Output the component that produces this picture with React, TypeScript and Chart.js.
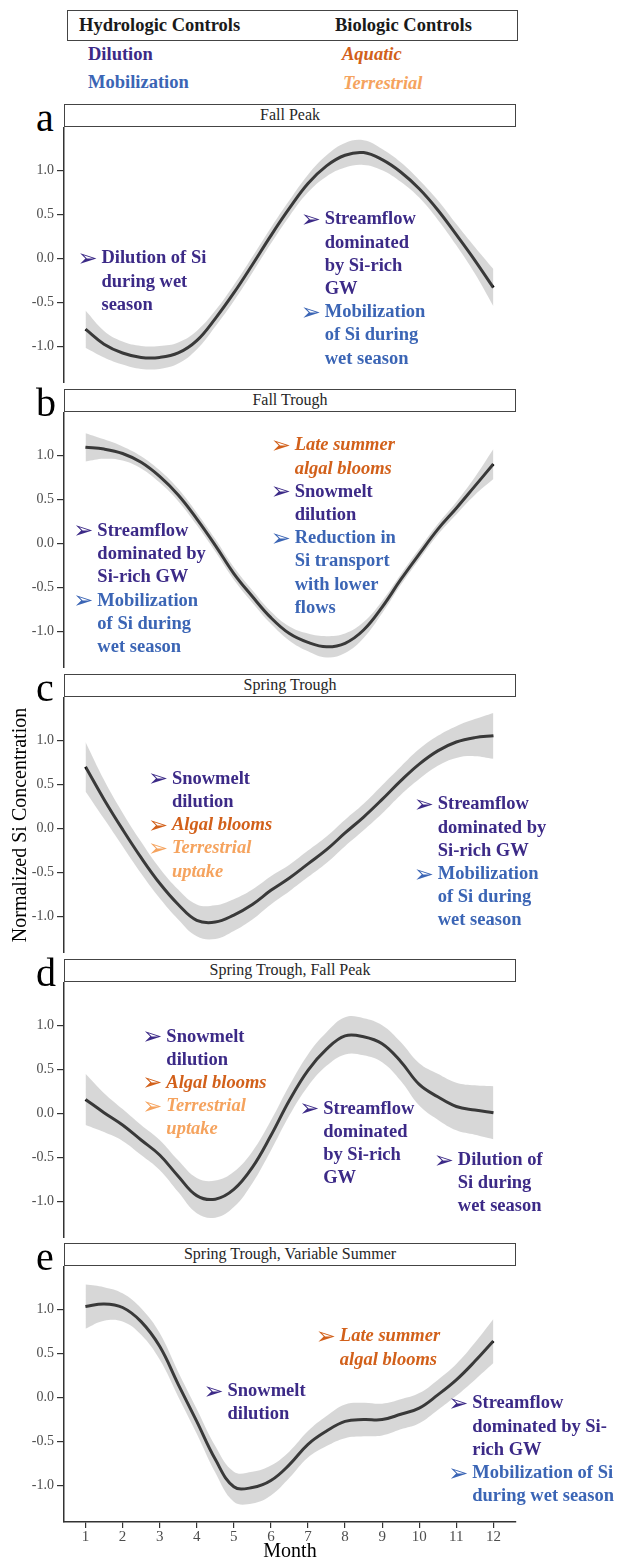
import React, { useEffect, useRef } from 'react';
import { Chart, registerables } from 'chart.js';

Chart.register(...registerables);

// ---------- data ----------
const MONTHS = [1, 1.5, 2, 2.5, 3, 3.5, 4, 4.5, 5, 5.5, 6, 6.5, 7, 7.5, 8, 8.5, 9, 9.5, 10, 10.5, 11, 11.5, 12];
const MONTH_TICKS = [1, 2, 3, 4, 5, 6, 7, 8, 9, 10, 11, 12];
const Y_TICKS = [-1, -0.5, 0, 0.5, 1];
const Y_TICK_LABELS = ['-1.0', '-0.5', '0.0', '0.5', '1.0'];
const PANEL_LETTERS = ['a', 'b', 'c', 'd', 'e'];
const PANEL_TITLES = ['Fall Peak', 'Fall Trough', 'Spring Trough', 'Spring Trough, Fall Peak', 'Spring Trough, Variable Summer'];

const fitA = [-0.80, -0.97, -1.07, -1.12, -1.12, -1.07, -0.93, -0.68, -0.39, -0.07, 0.26, 0.57, 0.85, 1.05, 1.17, 1.20, 1.12, 0.98, 0.79, 0.55, 0.27, -0.02, -0.33];
const upperA = [-0.59, -0.82, -0.94, -0.99, -0.99, -0.95, -0.82, -0.59, -0.30, 0.02, 0.35, 0.66, 0.95, 1.17, 1.31, 1.34, 1.24, 1.09, 0.89, 0.66, 0.39, 0.13, -0.12];
const lowerA = [-1.01, -1.12, -1.20, -1.25, -1.25, -1.19, -1.03, -0.77, -0.48, -0.16, 0.17, 0.48, 0.75, 0.93, 1.03, 1.06, 1.00, 0.87, 0.69, 0.44, 0.15, -0.17, -0.54];

const fitB = [1.09, 1.07, 1.02, 0.92, 0.76, 0.55, 0.28, -0.02, -0.34, -0.60, -0.84, -1.02, -1.12, -1.17, -1.13, -0.98, -0.72, -0.41, -0.12, 0.16, 0.40, 0.65, 0.90];
const upperB = [1.25, 1.18, 1.10, 0.99, 0.83, 0.62, 0.35, 0.05, -0.27, -0.53, -0.77, -0.94, -1.02, -1.05, -1.02, -0.89, -0.65, -0.35, -0.06, 0.22, 0.47, 0.75, 1.07];
const lowerB = [0.93, 0.96, 0.94, 0.85, 0.69, 0.48, 0.21, -0.09, -0.41, -0.67, -0.91, -1.10, -1.22, -1.29, -1.24, -1.07, -0.79, -0.47, -0.18, 0.10, 0.33, 0.55, 0.73];

const fitC = [0.70, 0.33, -0.01, -0.33, -0.62, -0.86, -1.04, -1.06, -0.98, -0.86, -0.70, -0.56, -0.40, -0.24, -0.05, 0.13, 0.33, 0.54, 0.73, 0.88, 0.98, 1.03, 1.05];
const upperC = [0.98, 0.55, 0.18, -0.15, -0.45, -0.69, -0.86, -0.87, -0.80, -0.69, -0.54, -0.41, -0.25, -0.09, 0.10, 0.28, 0.49, 0.70, 0.90, 1.05, 1.16, 1.24, 1.31];
const lowerC = [0.42, 0.11, -0.20, -0.51, -0.79, -1.03, -1.22, -1.25, -1.16, -1.03, -0.86, -0.71, -0.55, -0.39, -0.20, -0.02, 0.17, 0.38, 0.56, 0.71, 0.80, 0.82, 0.79];

const fitD = [0.16, 0.01, -0.13, -0.30, -0.47, -0.71, -0.93, -0.97, -0.86, -0.61, -0.25, 0.15, 0.49, 0.73, 0.88, 0.87, 0.79, 0.59, 0.33, 0.19, 0.08, 0.04, 0.01];
const upperD = [0.45, 0.23, 0.05, -0.13, -0.30, -0.53, -0.73, -0.76, -0.66, -0.43, -0.08, 0.32, 0.67, 0.92, 1.09, 1.08, 1.00, 0.81, 0.57, 0.45, 0.35, 0.32, 0.31];
const lowerD = [-0.13, -0.21, -0.31, -0.47, -0.64, -0.89, -1.13, -1.18, -1.06, -0.79, -0.42, -0.02, 0.31, 0.54, 0.67, 0.66, 0.58, 0.37, 0.09, -0.07, -0.19, -0.24, -0.29];

const fitE = [1.03, 1.06, 1.02, 0.86, 0.58, 0.15, -0.27, -0.70, -1.01, -1.02, -0.94, -0.76, -0.53, -0.38, -0.27, -0.25, -0.25, -0.19, -0.12, 0.03, 0.20, 0.41, 0.64];
const upperE = [1.28, 1.25, 1.18, 1.01, 0.73, 0.29, -0.13, -0.55, -0.84, -0.84, -0.77, -0.61, -0.38, -0.21, -0.08, -0.06, -0.07, -0.02, 0.05, 0.20, 0.38, 0.62, 0.89];
const lowerE = [0.78, 0.87, 0.86, 0.71, 0.43, 0.01, -0.41, -0.85, -1.18, -1.20, -1.11, -0.91, -0.68, -0.55, -0.46, -0.44, -0.43, -0.36, -0.29, -0.14, 0.02, 0.20, 0.39];

// ---------- styles ----------
const PURPLE = '#3C2A87';
const BLUE = '#3B65B5';
const ORANGE = '#D2601A';
const LIGHT = '#F5A35E';
const SERIF = '"Liberation Serif", "Times New Roman", serif';

type NoteLine = { t: string; c: string; i?: boolean; b?: boolean };
type Note = { x: number; y: number; lines: NoteLine[] };

const notesA: Note[] = [
  { x: 1.43, y: 0.0, lines: [
    { t: 'Dilution of Si', c: PURPLE, b: true }, { t: 'during wet', c: PURPLE }, { t: 'season', c: PURPLE }] },
  { x: 7.45, y: 0.44, lines: [
    { t: 'Streamflow', c: PURPLE, b: true }, { t: 'dominated', c: PURPLE }, { t: 'by Si-rich', c: PURPLE }, { t: 'GW', c: PURPLE },
    { t: 'Mobilization', c: BLUE, b: true }, { t: 'of Si during', c: BLUE }, { t: 'wet season', c: BLUE }] },
];
const notesB: Note[] = [
  { x: 1.32, y: 0.14, lines: [
    { t: 'Streamflow', c: PURPLE, b: true }, { t: 'dominated by', c: PURPLE }, { t: 'Si-rich GW', c: PURPLE },
    { t: 'Mobilization', c: BLUE, b: true }, { t: 'of Si during', c: BLUE }, { t: 'wet season', c: BLUE }] },
  { x: 6.64, y: 1.11, lines: [
    { t: 'Late summer', c: ORANGE, i: true, b: true }, { t: 'algal blooms', c: ORANGE, i: true },
    { t: 'Snowmelt', c: PURPLE, b: true }, { t: 'dilution', c: PURPLE },
    { t: 'Reduction in', c: BLUE, b: true }, { t: 'Si transport', c: BLUE }, { t: 'with lower', c: BLUE }, { t: 'flows', c: BLUE }] },
];
const notesC: Note[] = [
  { x: 3.33, y: 0.56, lines: [
    { t: 'Snowmelt', c: PURPLE, b: true }, { t: 'dilution', c: PURPLE },
    { t: 'Algal blooms', c: ORANGE, i: true, b: true },
    { t: 'Terrestrial', c: LIGHT, i: true, b: true }, { t: 'uptake', c: LIGHT, i: true }] },
  { x: 10.5, y: 0.27, lines: [
    { t: 'Streamflow', c: PURPLE, b: true }, { t: 'dominated by', c: PURPLE }, { t: 'Si-rich GW', c: PURPLE },
    { t: 'Mobilization', c: BLUE, b: true }, { t: 'of Si during', c: BLUE }, { t: 'wet season', c: BLUE }] },
];
const notesD: Note[] = [
  { x: 3.18, y: 0.87, lines: [
    { t: 'Snowmelt', c: PURPLE, b: true }, { t: 'dilution', c: PURPLE },
    { t: 'Algal blooms', c: ORANGE, i: true, b: true },
    { t: 'Terrestrial', c: LIGHT, i: true, b: true }, { t: 'uptake', c: LIGHT, i: true }] },
  { x: 7.41, y: 0.05, lines: [
    { t: 'Streamflow', c: PURPLE, b: true }, { t: 'dominated', c: PURPLE }, { t: 'by Si-rich', c: PURPLE }, { t: 'GW', c: PURPLE }] },
  { x: 11.04, y: -0.53, lines: [
    { t: 'Dilution of', c: PURPLE, b: true }, { t: 'Si during', c: PURPLE }, { t: 'wet season', c: PURPLE }] },
];
const notesE: Note[] = [
  { x: 4.83, y: 0.07, lines: [{ t: 'Snowmelt', c: PURPLE, b: true }, { t: 'dilution', c: PURPLE }] },
  { x: 7.86, y: 0.69, lines: [{ t: 'Late summer', c: ORANGE, i: true, b: true }, { t: 'algal blooms', c: ORANGE, i: true }] },
  { x: 11.43, y: -0.07, lines: [
    { t: 'Streamflow', c: PURPLE, b: true }, { t: 'dominated by Si-', c: PURPLE }, { t: 'rich GW', c: PURPLE },
    { t: 'Mobilization of Si', c: BLUE, b: true }, { t: 'during wet season', c: BLUE }] },
];

const PANELS = [
  { fit: fitA, upper: upperA, lower: lowerA, notes: notesA },
  { fit: fitB, upper: upperB, lower: lowerB, notes: notesB },
  { fit: fitC, upper: upperC, lower: lowerC, notes: notesC },
  { fit: fitD, upper: upperD, lower: lowerD, notes: notesD },
  { fit: fitE, upper: upperE, lower: lowerE, notes: notesE },
];

const STRIP_TOPS = [104, 389, 674, 959, 1243];
const STRIP_H = 23;
const PLOT_H = 256;
const PAGE_H = 1559;
const LINE_H = 23.2;

function makeNotesPlugin(notes: Note[]) {
  return {
    id: 'notes',
    afterDraw(chart: any) {
      const { ctx } = chart;
      const xs = chart.scales.x;
      const ys = chart.scales.y;
      ctx.save();
      ctx.textBaseline = 'middle';
      ctx.textAlign = 'left';
      for (const n of notes) {
        const px = xs.getPixelForValue(n.x);
        const py = ys.getPixelForValue(n.y);
        n.lines.forEach((ln, i) => {
          const ly = py + i * LINE_H;
          ctx.fillStyle = ln.c;
          if (ln.b) {
            ctx.font = '24px "DejaVu Sans"';
            ctx.fillText('\u27A2', px - 24, ly + 1);
          }
          ctx.font = `${ln.i ? 'italic ' : ''}bold 18.5px ${SERIF}`;
          ctx.fillText(ln.t, px, ly);
        });
      }
      ctx.restore();
    },
  };
}

function Panel({ idx }: { idx: number }) {
  const ref = useRef<HTMLCanvasElement>(null);
  const isLast = idx === PANELS.length - 1;
  const top = STRIP_TOPS[idx] + STRIP_H;
  const height = isLast ? PAGE_H - top : PLOT_H;
  useEffect(() => {
    const p = PANELS[idx];
    const toPts = (arr: number[]) => MONTHS.map((m, i) => ({ x: m, y: arr[i] }));
    const chart = new Chart(ref.current as HTMLCanvasElement, {
      type: 'line',
      data: {
        datasets: [
          { data: toPts(p.upper), fill: '+1', backgroundColor: 'rgba(150,150,150,0.38)', borderWidth: 0, pointRadius: 0, tension: 0.4 },
          { data: toPts(p.lower), fill: false, borderWidth: 0, pointRadius: 0, tension: 0.4 },
          { data: toPts(p.fit), fill: false, borderColor: '#000', borderWidth: 3, pointRadius: 0, tension: 0.4 },
        ],
      } as any,
      options: {
        responsive: false,
        animation: false,
        devicePixelRatio: 1,
        layout: { padding: { left: 0, right: 103, top: 0, bottom: 0 } },
        plugins: { legend: { display: false }, tooltip: { enabled: false } },
        scales: {
          x: {
            type: 'linear',
            min: 0.42,
            max: 12.61,
            display: isLast,
            afterBuildTicks: (s: any) => { s.ticks = MONTH_TICKS.map((v) => ({ value: v })); },
            ticks: { color: '#4D4D4D', font: { family: SERIF, size: 15 }, padding: 0, autoSkip: false, maxRotation: 0 },
            grid: { drawOnChartArea: false, drawTicks: true, tickLength: 6, color: '#333', lineWidth: 1.2 },
            border: { display: true, color: '#333', width: 1.5 },
            title: { display: true, text: 'Month', color: '#000', font: { family: SERIF, size: 20, lineHeight: 1 }, padding: { top: 0, bottom: -3 } },
            afterFit: (s: any) => { s.height = height - PLOT_H; s.paddingLeft = 0; s.paddingRight = 0; },
          },
          y: {
            min: -1.41,
            max: 1.49,
            afterBuildTicks: (s: any) => { s.ticks = Y_TICKS.map((v) => ({ value: v })); },
            ticks: { callback: (_v: any, i: number) => Y_TICK_LABELS[i], color: '#4D4D4D', font: { family: SERIF, size: 14 }, padding: 3, autoSkip: false },
            grid: { drawOnChartArea: false, drawTicks: true, tickLength: 7, color: '#333', lineWidth: 1.2 },
            border: { display: true, color: '#333', width: 1.5 },
            title: { display: idx === 2, text: 'Normalized Si Concentration', color: '#000', font: { family: SERIF, size: 20 }, padding: { top: 9, bottom: 0 } },
            afterFit: (s: any) => { s.width = 64; s.paddingTop = 0; s.paddingBottom = 0; },
          },
        },
      } as any,
      plugins: [makeNotesPlugin(p.notes)],
    });
    return () => chart.destroy();
  }, []);
  return (
    <canvas
      ref={ref}
      width={619}
      height={height}
      style={{ position: 'absolute', left: 0, top, width: 619, height }}
    />
  );
}

const abs = (left: number, top: number, extra: React.CSSProperties = {}): React.CSSProperties => ({
  position: 'absolute', left, top, whiteSpace: 'nowrap', ...extra,
});

export default function App() {
  const legendFont: React.CSSProperties = { fontFamily: SERIF, fontSize: 18.5, fontWeight: 'bold', lineHeight: '20px' };
  return (
    <div style={{ position: 'absolute', left: 0, top: 0, width: 619, height: PAGE_H, background: '#fff', overflow: 'hidden', fontFamily: SERIF }}>
      <div style={{ position: 'absolute', left: 67, top: 10, width: 451, height: 31, border: '1.5px solid #444', boxSizing: 'border-box' }} />
      <div style={abs(79, 15, { ...legendFont, color: '#1a1a1a' })}>Hydrologic Controls</div>
      <div style={abs(335, 15, { ...legendFont, color: '#1a1a1a' })}>Biologic Controls</div>
      <div style={abs(88, 44, { ...legendFont, color: PURPLE })}>Dilution</div>
      <div style={abs(88, 72, { ...legendFont, color: BLUE })}>Mobilization</div>
      <div style={abs(342, 44, { ...legendFont, color: ORANGE, fontStyle: 'italic' })}>Aquatic</div>
      <div style={abs(343, 73, { ...legendFont, color: LIGHT, fontStyle: 'italic' })}>Terrestrial</div>
      {PANELS.map((_, i) => (
        <React.Fragment key={i}>
          <div style={abs(36, STRIP_TOPS[i] - 6, { fontSize: 40, lineHeight: '40px', color: '#000' })}>{PANEL_LETTERS[i]}</div>
          <div style={{
            position: 'absolute', left: 64, top: STRIP_TOPS[i], width: 452, height: STRIP_H,
            border: '1.5px solid #444', boxSizing: 'border-box', textAlign: 'center',
            fontSize: 16, lineHeight: '20px', color: '#262626', background: '#fff',
          }}>{PANEL_TITLES[i]}</div>
          <Panel idx={i} />
        </React.Fragment>
      ))}
    </div>
  );
}
